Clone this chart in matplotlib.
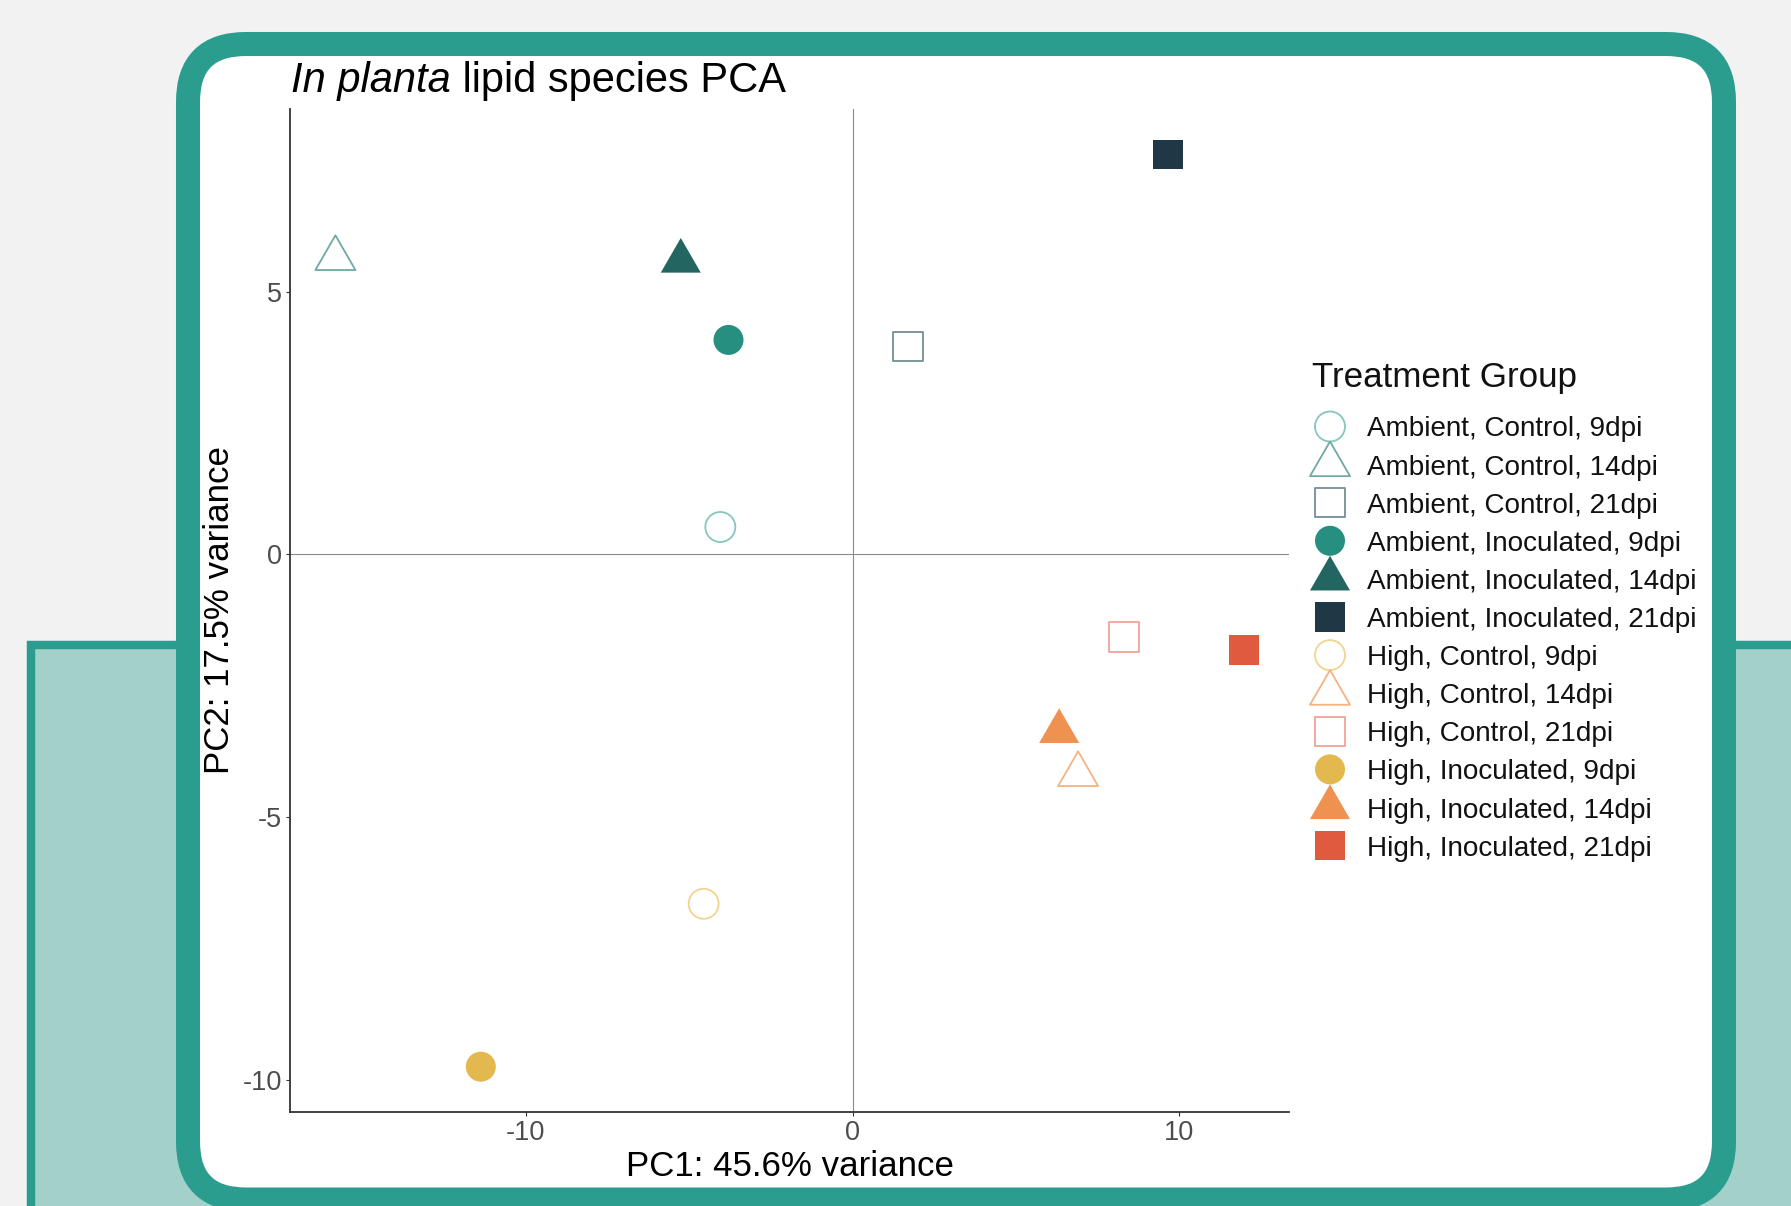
import matplotlib
matplotlib.use("Agg")
import matplotlib.pyplot as plt
import numpy as np
from matplotlib.patches import Rectangle, FancyBboxPatch
from matplotlib.path import Path

plt.rcParams['font.family'] = ['Liberation Sans', 'DejaVu Sans']
plt.rcParams['axes.unicode_minus'] = False

# PCA scores per treatment group
groups = [
    "Ambient, Control, 9dpi", "Ambient, Control, 14dpi", "Ambient, Control, 21dpi",
    "Ambient, Inoculated, 9dpi", "Ambient, Inoculated, 14dpi", "Ambient, Inoculated, 21dpi",
    "High, Control, 9dpi", "High, Control, 14dpi", "High, Control, 21dpi",
    "High, Inoculated, 9dpi", "High, Inoculated, 14dpi", "High, Inoculated, 21dpi",
]
pc1 = [-4.05, -15.83, 1.69, -3.80, -5.26, 9.65, -4.56, 6.90, 8.30, -11.38, 6.32, 11.97]
pc2 = [0.52, 5.63, 3.95, 4.08, 5.58, 7.61, -6.65, -4.19, -1.57, -9.75, -3.37, -1.82]
shapes = ["circle", "triangle", "square"] * 4
filled = [False] * 3 + [True] * 3 + [False] * 3 + [True] * 3
colors = ["#86c6bd", "#6fa9a3", "#748e97", "#268f7f", "#236561", "#203846",
          "#f3d38f", "#f6b383", "#f1a397", "#e3b84f", "#ef9150", "#e05a40"]
xticks = [-10, 0, 10]
yticks = [-10, -5, 0, 5]

W, H = 1791, 1206
teal = "#2a9d8f"

# equilateral triangle centred on its centroid, like R's pch 2 / 17
tri = Path([(0, 1), (-0.866, -0.5), (0.866, -0.5), (0, 1)],
           [Path.MOVETO, Path.LINETO, Path.LINETO, Path.CLOSEPOLY])
marker_of = {"circle": ("o", 21.6), "triangle": (tri, 33.3), "square": ("s", 21.2)}


def draw_point(ax, x, y, shape, fill, color, zorder=3):
    m, size = marker_of[shape]
    if fill:
        ax.scatter([x], [y], marker=m, s=size ** 2, c=color, edgecolors="none", zorder=zorder)
    else:
        ax.scatter([x], [y], marker=m, s=size ** 2, facecolors="none",
                   edgecolors=color, linewidths=1.3, zorder=zorder)


fig = plt.figure(figsize=(W / 100, H / 100), dpi=100, facecolor="#f2f2f2")

# panel background in pixel coordinates
bg = fig.add_axes([0, 0, 1, 1], zorder=0)
bg.set_xlim(0, W)
bg.set_ylim(H, 0)
bg.axis("off")
bg.add_patch(Rectangle((31, 645), 1800, 700, facecolor="#a4d0ca",
                       edgecolor=teal, lw=6.1))
bg.add_patch(FancyBboxPatch((188, 44), 1724 - 188, 1199.5 - 44,
                            boxstyle="round,pad=0,rounding_size=58",
                            facecolor="white", edgecolor=teal, lw=17.3))

# scatter panel
x0, x1, y0, y1 = 290, 1289.2, 108.8, 1112.3
ax = fig.add_axes([x0 / W, 1 - y1 / H, (x1 - x0) / W, (y1 - y0) / H], zorder=1)
ax.patch.set_alpha(0)

xr = max(pc1) - min(pc1)
yr = max(pc2) - min(pc2)
ax.set_xlim(min(pc1) - 0.05 * xr, max(pc1) + 0.05 * xr)
ax.set_ylim(min(pc2) - 0.05 * yr, max(pc2) + 0.05 * yr)

ax.axhline(0, color="#8c8c8c", lw=0.8, zorder=1)
ax.axvline(0, color="#8c8c8c", lw=0.8, zorder=1)

for x, y, sh, f, c in zip(pc1, pc2, shapes, filled, colors):
    draw_point(ax, x, y, sh, f, c)

for side in ["top", "right"]:
    ax.spines[side].set_visible(False)
for side in ["left", "bottom"]:
    ax.spines[side].set_color("#333333")
    ax.spines[side].set_linewidth(1.3)

ax.set_xticks(xticks)
ax.set_yticks(yticks)
ax.tick_params(length=3, width=0.8, color="#333333", labelcolor="#4d4d4d",
               labelsize=19.5, pad=2.5)

ax.set_xlabel("PC1: 45.6% variance", fontsize=25.1, va="center")
ax.xaxis.set_label_coords(0.5, (y1 - 1167) / (y1 - y0))
ax.set_ylabel("PC2: 17.5% variance", fontsize=25.1, va="center")
ax.yaxis.set_label_coords((219 - x0) / (x1 - x0), 0.5)

# title: italic species part followed by plain text
t1 = fig.text(291 / W, 1 - 92 / H, "In planta", fontsize=30, style="italic",
              va="baseline", ha="left")
fig.canvas.draw()
ext = t1.get_window_extent(fig.canvas.get_renderer())
fig.text(ext.x1 / W, 1 - 92 / H, " lipid species PCA", fontsize=30,
         va="baseline", ha="left")

# legend
bg.text(1311.7, 386.7, "Treatment Group", fontsize=25.2, va="baseline", ha="left",
        color="#111111")
row0, step = 426.5, 38.1
for i, (lab, sh, f, c) in enumerate(zip(groups, shapes, filled, colors)):
    yy = row0 + i * step
    draw_point(bg, 1330, yy, sh, f, c)
    bg.text(1366.7, yy, lab, fontsize=20.1, va="center_baseline", ha="left",
            color="#111111")

fig.savefig("out.png", dpi=100, facecolor=fig.get_facecolor())
